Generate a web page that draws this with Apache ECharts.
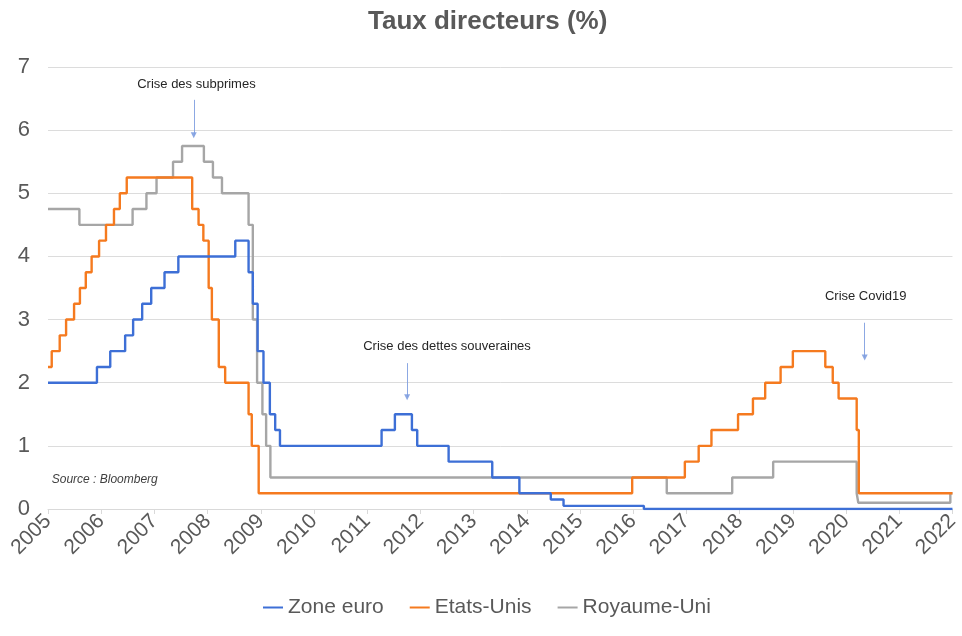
<!DOCTYPE html>
<html>
<head>
<meta charset="utf-8">
<script src="https://cdn.jsdelivr.net/npm/echarts@6/dist/echarts.min.js"></script>
<style>
  html, body { margin: 0; padding: 0; background: #ffffff; }
  #chart { width: 962px; height: 636px; }
</style>
</head>
<body>
<div id="chart"></div>
<script>
// ---- Data (decimal years where each policy rate starts to apply) ----
const seriesNames = ['Zone euro', 'Etats-Unis', 'Royaume-Uni'];

const euroDates = [2005.0, 2005.92, 2006.17, 2006.45, 2006.6, 2006.77, 2006.94, 2007.19, 2007.45, 2008.52,
  2008.77, 2008.85, 2008.94, 2009.05, 2009.17, 2009.27, 2009.36, 2011.27, 2011.52, 2011.84,
  2011.94, 2012.53, 2013.35, 2013.86, 2014.45, 2014.69, 2016.2, 2022.0];
const euroValues = [2.0, 2.25, 2.5, 2.75, 3.0, 3.25, 3.5, 3.75, 4.0, 4.25,
  3.75, 3.25, 2.5, 2.0, 1.5, 1.25, 1.0, 1.25, 1.5, 1.25,
  1.0, 0.75, 0.5, 0.25, 0.15, 0.05, 0.0, 0.0];

const usDates = [2005.0, 2005.07, 2005.22, 2005.34, 2005.49, 2005.6, 2005.71, 2005.82, 2005.96, 2006.09,
  2006.24, 2006.35, 2006.48, 2007.71, 2007.83, 2007.92, 2008.02, 2008.08, 2008.21, 2008.33,
  2008.77, 2008.83, 2008.96, 2015.98, 2016.97, 2017.23, 2017.47, 2017.97, 2018.25, 2018.48,
  2018.77, 2019.0, 2019.61, 2019.75, 2019.86, 2020.2, 2020.24, 2022.0];
const usValues = [2.25, 2.5, 2.75, 3.0, 3.25, 3.5, 3.75, 4.0, 4.25, 4.5,
  4.75, 5.0, 5.25, 4.75, 4.5, 4.25, 3.5, 3.0, 2.25, 2.0,
  1.5, 1.0, 0.25, 0.5, 0.75, 1.0, 1.25, 1.5, 1.75, 2.0,
  2.25, 2.5, 2.25, 2.0, 1.75, 1.25, 0.25, 0.25];

const ukDates = [2005.0, 2005.59, 2006.59, 2006.85, 2007.04, 2007.35, 2007.52, 2007.93, 2008.1, 2008.27,
  2008.77, 2008.85, 2008.93, 2009.03, 2009.1, 2009.18, 2016.63, 2017.86, 2018.63, 2020.2,
  2020.23, 2021.96, 2022.0];
const ukValues = [4.75, 4.5, 4.75, 5.0, 5.25, 5.5, 5.75, 5.5, 5.25, 5.0,
  4.5, 3.0, 2.0, 1.5, 1.0, 0.5, 0.25, 0.5, 0.75, 0.25,
  0.1, 0.25, 0.25];

const annotationTexts = ['Crise des subprimes', 'Crise des dettes souveraines', 'Crise Covid19'];
const annotationTextX = [2007.79, 2012.5, 2020.37];
const annotationTextY = [6.73, 2.58, 3.36];
const arrowX = [2007.74, 2011.75, 2020.35];
const arrowFromY = [6.48, 2.31, 2.95];
const arrowToY = [5.92, 1.77, 2.4];
const sourceText = 'Source : Bloomberg';

// ---- Build ----
const pairs = (xs, ys) => xs.map((x, i) => [x, ys[i]]);
const colors = ['#3d6fd6', '#f57a1f', '#a6a6a6'];
const font = '"Liberation Sans", Arial, sans-serif';

const chart = echarts.init(document.getElementById('chart'), null, { renderer: 'canvas' });

const textPoints = annotationTexts.map((t, i) => ({
  coord: [annotationTextX[i], annotationTextY[i]],
  label: { formatter: t }
}));
textPoints.push({
  coord: [2005.07, 0.46],
  label: { formatter: sourceText, align: 'left', fontStyle: 'italic', fontSize: 12, color: '#404040' }
});

const arrows = arrowX.map((x, i) => [
  { coord: [x, arrowFromY[i]] },
  { coord: [x, arrowToY[i]] }
]);

const baseSeries = (name, data, color, z) => ({
  name,
  type: 'line',
  step: 'end',
  data,
  showSymbol: false,
  symbol: 'none',
  z,
  lineStyle: { color, width: 2.4 },
  itemStyle: { color },
  animation: false
});

const sEuro = baseSeries(seriesNames[0], pairs(euroDates, euroValues), colors[0], 5);
sEuro.markLine = {
  silent: true,
  symbol: ['none', 'triangle'],
  symbolSize: 6,
  symbolRotate: 180,
  label: { show: false },
  itemStyle: { color: '#3d6fd6' },
  lineStyle: { color: '#7f9fe0', width: 1, type: 'solid', opacity: 0.9 },
  emphasis: { disabled: true },
  data: arrows,
  animation: false
};
sEuro.markPoint = {
  silent: true,
  symbol: 'circle',
  symbolSize: 0,
  itemStyle: { color: 'transparent' },
  label: {
    show: true,
    position: 'inside',
    color: '#262626',
    fontSize: 13,
    fontFamily: font
  },
  data: textPoints,
  animation: false
};

const option = {
  animation: false,
  backgroundColor: '#ffffff',
  title: {
    text: 'Taux directeurs (%)',
    left: 368,
    top: 9,
    padding: 0,
    textStyle: { fontSize: 26, fontWeight: 'bold', color: '#595959', fontFamily: font }
  },
  legend: {
    data: seriesNames,
    top: 597,
    left: 263,
    padding: 0,
    icon: 'rect',
    itemWidth: 20,
    itemHeight: 2,
    itemGap: 26,
    textStyle: { fontSize: 21, color: '#595959', fontFamily: font }
  },
  grid: { left: 48, right: 7, top: 67, bottom: 127, containLabel: false },
  xAxis: {
    type: 'value',
    min: 2005,
    max: 2022,
    interval: 1,
    axisLine: { show: true, lineStyle: { color: '#d9d9d9', width: 1 } },
    axisTick: { show: true, length: 5, lineStyle: { color: '#d9d9d9' } },
    splitLine: { show: false },
    axisLabel: {
      rotate: 45,
      margin: 9,
      fontSize: 21,
      color: '#595959',
      fontFamily: font,
      formatter: v => String(Math.round(v)),
      showMaxLabel: true,
      showMinLabel: true
    }
  },
  yAxis: {
    type: 'value',
    min: 0,
    max: 7,
    interval: 1,
    axisLine: { show: false },
    axisTick: { show: false },
    splitLine: { show: true, lineStyle: { color: '#dcdcdc', width: 1 } },
    axisLabel: { fontSize: 22, color: '#595959', fontFamily: font, margin: 18 }
  },
  series: [
    sEuro,
    baseSeries(seriesNames[1], pairs(usDates, usValues), colors[1], 4),
    baseSeries(seriesNames[2], pairs(ukDates, ukValues), colors[2], 3)
  ]
};

chart.setOption(option);
</script>
</body>
</html>
